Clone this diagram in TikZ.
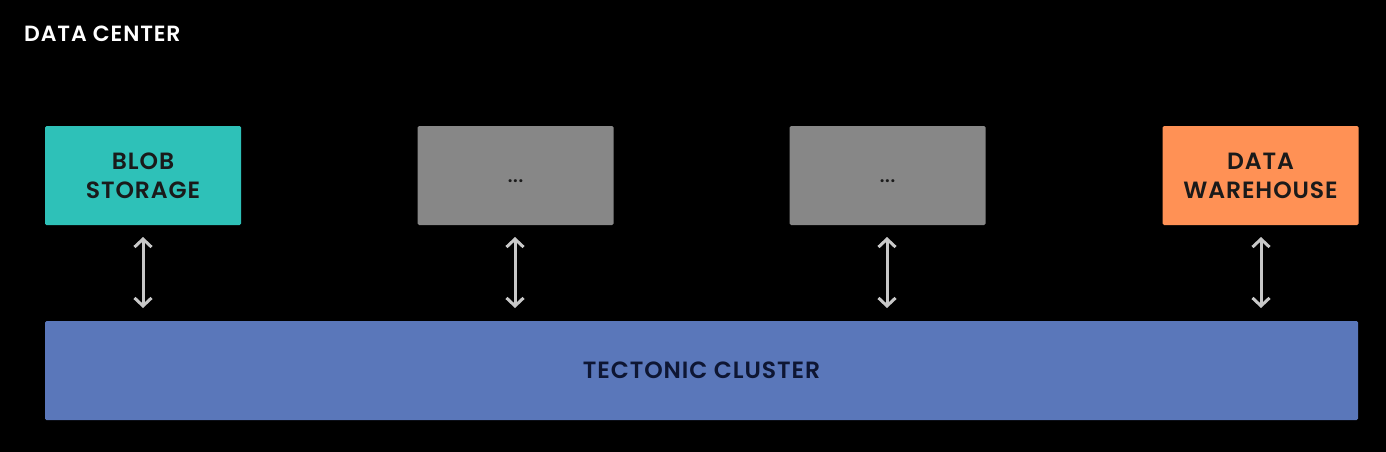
\documentclass[tikz,border=0pt]{standalone}
\usepackage{fontspec}
\setmainfont{Poppins SemiBold}[LetterSpace=4]
\usetikzlibrary{arrows.meta}
\definecolor{teal}{HTML}{2EC1B8}
\definecolor{grayb}{HTML}{878787}
\definecolor{orangeb}{HTML}{FF9155}
\definecolor{blueb}{HTML}{5A77BA}
\definecolor{arrowc}{HTML}{C8C8C8}
\definecolor{txt}{HTML}{1A1A1A}
\definecolor{navy}{HTML}{0E1633}
\tikzset{
  box/.style={rectangle, rounded corners=1.5pt, minimum width=196pt, minimum height=99pt, inner sep=0pt, align=center, font=\fontsize{23.5}{29}\selectfont, text=txt},
  link/.style={draw=arrowc, line width=3pt, {Straight Barb[length=8pt,width=17pt,line width=3pt]}-{Straight Barb[length=8pt,width=17pt,line width=3pt]}}
}
\begin{document}
\begin{tikzpicture}[x=1pt,y=-1pt]
\fill[black] (0,0) rectangle (1386,452);
\useasboundingbox (0,0) rectangle (1386,452);
\node[anchor=base west, text=white, font=\fontsize{22}{24}\selectfont, inner sep=0pt] (title) at (24,41.5) {DATA CENTER};
\node[box, fill=teal] (blob) at (143,175.5) {BLOB\\STORAGE};
\node[box, fill=grayb, font=\fontsize{18}{20}\selectfont] (g1) at (515.5,175.5) {\raisebox{-15pt}{...}};
\node[box, fill=grayb, font=\fontsize{18}{20}\selectfont] (g2) at (887.5,175.5) {\raisebox{-15pt}{...}};
\node[box, fill=orangeb] (dw) at (1260.5,175.5) {DATA\\WAREHOUSE};
\node[box, fill=blueb, minimum width=1313pt, text=navy] (tc) at (701.5,370.5) {TECTONIC CLUSTER};
\coordinate (a1t) at (143,237); \coordinate (a1b) at (143,308);
\coordinate (a2t) at (515,237); \coordinate (a2b) at (515,308);
\coordinate (a3t) at (887,237); \coordinate (a3b) at (887,308);
\coordinate (a4t) at (1261,237); \coordinate (a4b) at (1261,308);
\draw[link] (a1t) -- (a1b);
\draw[link] (a2t) -- (a2b);
\draw[link] (a3t) -- (a3b);
\draw[link] (a4t) -- (a4b);
\end{tikzpicture}
\end{document}
